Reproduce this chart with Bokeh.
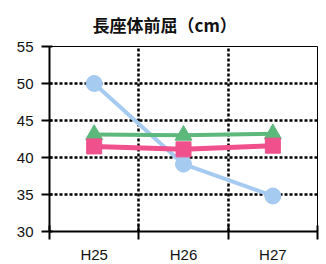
from bokeh.plotting import figure
from bokeh.models import FixedTicker, Range1d, Title
from bokeh.embed import file_html
from bokeh.resources import INLINE

categories = ["H25", "H26", "H27"]
blue_vals = [50.0, 39.1, 34.8]
green_vals = [43.1, 43.0, 43.2]
pink_vals = [41.5, 41.1, 41.6]
y_ticks = [30, 35, 40, 45, 50, 55]

xs = [i + 0.5 for i in range(len(categories))]

p = figure(frame_width=268, frame_height=185, width=326, height=264,
           output_backend="svg", toolbar_location=None,
           x_range=Range1d(0, len(categories)), y_range=Range1d(30, 55),
           min_border_left=49, min_border_right=9, min_border_top=45,
           min_border_bottom=34, title=None)

t = Title(text="長座体前屈（cm）", align="left", text_font="Noto Sans CJK JP",
          text_font_size="17px", text_font_style="bold", text_color="#111111",
          offset=43, standoff=19)
p.add_layout(t, "above")

p.outline_line_color = "black"
p.outline_line_width = 1
p.background_fill_color = "white"
p.border_fill_color = "white"

# x axis
p.xaxis.ticker = FixedTicker(ticks=xs, minor_ticks=list(range(len(categories) + 1)))
p.xaxis.major_label_overrides = {x: c for x, c in zip(xs, categories)}
p.xaxis.major_tick_line_color = None
p.xaxis.major_tick_out = 0
p.xaxis.major_tick_in = 0
p.xaxis.minor_tick_line_color = "black"
p.xaxis.minor_tick_line_width = 2
p.xaxis.minor_tick_out = 8
p.xaxis.minor_tick_in = 6
p.xaxis.axis_line_width = 2
p.xaxis.axis_line_color = "black"
p.xaxis.major_label_standoff = 6
p.xaxis.major_label_text_font = "Liberation Sans"
p.xaxis.major_label_text_font_size = "15px"
p.xaxis.major_label_text_color = "#111111"

# y axis
p.yaxis.ticker = FixedTicker(ticks=y_ticks, minor_ticks=[])
p.yaxis.axis_line_width = 2
p.yaxis.axis_line_color = "black"
p.yaxis.major_tick_line_width = 2
p.yaxis.major_tick_out = 8
p.yaxis.major_tick_in = 3
p.yaxis.major_label_standoff = 8
p.yaxis.major_label_text_font = "Liberation Sans"
p.yaxis.major_label_text_font_size = "15px"
p.yaxis.major_label_text_color = "#111111"

# grids
p.xgrid.ticker = FixedTicker(ticks=[1, 2])
p.xgrid.grid_line_color = "black"
p.xgrid.grid_line_width = 2.5
p.xgrid.grid_line_dash = "3 2"
p.ygrid.ticker = FixedTicker(ticks=[35, 40, 45, 50])
p.ygrid.grid_line_color = "black"
p.ygrid.grid_line_width = 2.5
p.ygrid.grid_line_dash = "3 2"

blue = "#a6cbf0"
green = "#5db87c"
pink = "#f0508c"

p.line(xs, blue_vals, line_color=blue, line_width=4)
p.scatter(xs, blue_vals, marker="circle", size=16, fill_color=blue, line_color=blue)

p.line(xs, green_vals, line_color=green, line_width=4)
p.scatter(xs, green_vals, marker="triangle", size=17, fill_color=green, line_color=green)

p.line(xs, pink_vals, line_color=pink, line_width=5)
p.scatter(xs, pink_vals, marker="square", size=15, fill_color=pink, line_color=pink)

open("out.html", "w").write(file_html(p, INLINE))
